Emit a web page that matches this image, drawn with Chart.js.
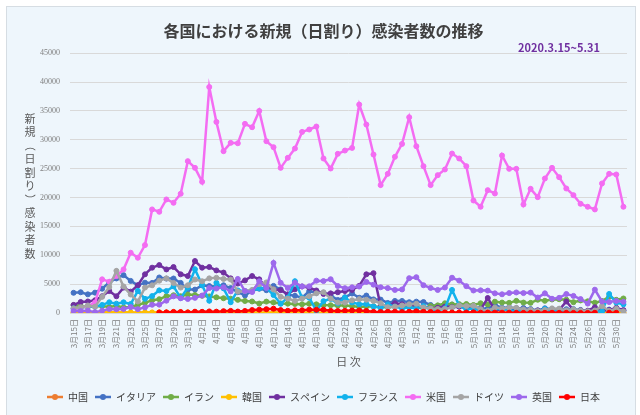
<!DOCTYPE html>
<html lang="ja">
<head>
<meta charset="utf-8">
<script src="https://cdn.jsdelivr.net/npm/chart.js@4.4.0/dist/chart.umd.min.js"></script>
<style>
  html, body { margin: 0; padding: 0; background: #fff; }
  #wrap { width: 640px; height: 415px; }
</style>
</head>
<body>
<div id="wrap"><canvas id="chart" width="640" height="415"></canvas></div>
<script>
// 日付（3/15〜5/31）
const days = [
  "3月15日","3月16日","3月17日","3月18日","3月19日","3月20日","3月21日","3月22日","3月23日","3月24日",
  "3月25日","3月26日","3月27日","3月28日","3月29日","3月30日","3月31日",
  "4月1日","4月2日","4月3日","4月4日","4月5日","4月6日","4月7日","4月8日","4月9日","4月10日",
  "4月11日","4月12日","4月13日","4月14日","4月15日","4月16日","4月17日","4月18日","4月19日","4月20日",
  "4月21日","4月22日","4月23日","4月24日","4月25日","4月26日","4月27日","4月28日","4月29日","4月30日",
  "5月1日","5月2日","5月3日","5月4日","5月5日","5月6日","5月7日","5月8日","5月9日","5月10日",
  "5月11日","5月12日","5月13日","5月14日","5月15日","5月16日","5月17日","5月18日","5月19日","5月20日",
  "5月21日","5月22日","5月23日","5月24日","5月25日","5月26日","5月27日","5月28日","5月29日","5月30日","5月31日"
];

const china = [20,27,30,25,16,34,39,41,46,39, 78,47,67,55,54,45,111,31,48,36, 35,31,30,39,78,32,62,42,46,99,
  108,89,46,26,27,30,30,12,11,30, 10,11,3,12,11,3,22,6,12,2, 4,1,2,1,2,1,17,5,1,8, 6,4,5,7,6,5,3,8,11,1, 3,1,0,7,2,3,2,4];
const italy = [3497,3590,3233,3526,4207,5322,5986,6557,5560,4789, 5249,5210,6153,5959,5974,5217,4050,4053,4782,4668,
  4585,4805,4316,3599,3039,3836,4204,3951,4694,4092, 3153,2972,2667,3786,3493,3491,3047,2256,2729,3370,
  2646,3021,2357,2324,1739,2091,2086,1872,1965,1900, 1389,1221,1075,1444,1401,1327,1083,802,744,1402,
  888,992,789,875,675,451,813,665,642,652, 669,531,300,397,584,593,516,416];
const iran = [1365,1209,1053,1178,1192,1046,1237,966,1028,1411, 1762,2206,2389,2926,3076,2901,3186,3110,2987,2875,
  2715,2560,2483,2274,2089,1997,1634,1972,1837,1657, 1617,1574,1512,1606,1499,1374,1343,1294,1297,1194,
  1030,1134,1153,1006,991,1112,1073,993,976,802, 1223,1323,1680,1485,1529,1556,1383,1683,1481,1958,
  1808,1757,2102,1806,1757,2294,2111,2346,2392,2311, 1869,2180,2023,1787,2080,2819,2282,2516];
const korea = [107,76,74,84,93,152,87,147,98,64, 76,100,104,91,146,105,78,125,101,89, 86,94,81,47,47,53,39,27,30,32,
  25,27,27,22,22,18,8,13,9,11, 8,6,10,10,14,9,4,9,6,13, 8,3,2,4,12,18,34,35,27,26, 29,27,19,13,15,13,32,12,20,23,
  25,16,19,40,79,58,39,27];
const spain = [1400,1900,2000,2200,2900,3800,2900,4400,3700,4800, 6700,7850,8300,7550,7960,6700,6400,9000,7850,7960,
  7380,7000,6000,5100,5650,6400,5830,4400,4100,3960, 3230,4100,4600,4400,3900,3300,3400,3600,3800,4000,
  4700,6700,6900,1200,1300,1700,1500,1400,1300,1000, 800,900,1100,1000,1100,900,700,600,2600,500,
  600,600,800,600,500,450,400,450,500,2000, 500,450,400,1000,400,500,900,500];
const france = [800,840,1190,1100,1400,1860,1620,1850,1560,3840, 2450,2930,3920,3810,4610,2600,4380,7580,4860,2120,
  5230,4270,1870,3910,3780,3880,4290,4340,3110,1610, 2670,5500,2630,2640,400,2050,2440,1650,2670,1830,
  1520,1540,1150,890,1480,1100,800,1000,800,1200, 700,500,800,4000,1300,600,800,400,300,800,
  700,500,300,500,400,200,700,500,300,300, 600,300,200,200,300,3300,1800,1500];
const usa = [700,900,1200,1800,5830,5420,6400,7550,10440,9570, 11760,17940,17530,19670,19090,20650,26300,25140,22720,39150,
  33100,28030,29470,29400,32760,32180,35000,29760,28720,25140, 26870,28490,31370,31780,32300,26760,25030,27570,28140,28600,
  36100,32640,27450,22150,24100,27050,29290,33910,28890,25430, 22150,23880,24860,27620,26760,25430,19490,18400,21280,20700,
  27280,24970,24970,18800,21510,20070,23300,25140,23530,21570, 20410,18910,18400,17940,22440,24100,23990,18400];
const germany = [800,1000,1300,1100,2800,4500,7300,4600,3200,2000, 4400,4800,5600,6000,5200,4400,4800,5800,5500,6000,
  6100,5900,5800,3700,3800,4000,5000,5300,4100,2800, 2500,2100,2500,2900,3400,3600,2500,1800,1800,2200,
  2400,2300,2100,1700,1000,1100,1300,1500,1600,950, 800,700,700,950,1300,1200,1250,670,360,930,
  800,930,910,620,580,340,510,800,750,460, 640,430,290,430,1200,350,740,290];
const uk = [340,340,410,150,410,680,650,710,1040,670, 970,1430,1450,2130,2890,2550,2430,2620,3010,4320,
  4240,4450,3740,5900,3800,3630,5490,4340,8680,5230, 4340,5250,4600,4620,5600,5530,5850,4680,4300,4450,
  4580,5390,4910,4460,4310,4000,4080,6030,6200,4810, 4340,3990,4410,6110,5610,4650,3900,3920,3880,3400,
  3240,3450,3560,3450,3530,2680,3410,2470,2620,3290, 2960,2410,1630,4040,2000,1890,2100,1940];
const japan = [null,null,null,null,null,null,null,null,null,null,null,null,
  96,112,194,173,87,
  225,206,272,235,318,368,252,351,511,579,658,743,507,390,455,482,584,556,568,373,347,378,438,436,347,201,189,203,231,165,
  202,294,201,173,123,99,85,93,87,109,52,72,59,53,56,29,22,30,31,26,40,26,28,21,14,21,38,null,48,36,null];

const seriesNames = ["中国","イタリア","イラン","韓国","スペイン","フランス","米国","ドイツ","英国","日本"];
const seriesData = [china, italy, iran, korea, spain, france, usa, germany, uk, japan];
const seriesColors = ["#ed7d31","#4472c4","#70ad47","#ffc000","#7030a0","#12b2ec","#f46cf2","#a5a5a5","#9d68ec","#ff0000"];

const yTicksMax = 45000;
const yTicksStep = 5000;
const chartTitle = "各国における新規（日割り）感染者数の推移";
const periodText = "2020.3.15~5.31";
const yTitle = "新規（日割り）感染者数";
const xTitle = "日 次";

const JP = '"Noto Sans CJK JP", "Noto Sans", sans-serif';

// legend marker: line with dot
function makeMarker(color) {
  const c = document.createElement("canvas");
  c.width = 16; c.height = 8;
  const g = c.getContext("2d");
  g.strokeStyle = color; g.lineWidth = 2.5;
  g.beginPath(); g.moveTo(0, 4); g.lineTo(16, 4); g.stroke();
  g.fillStyle = color;
  g.beginPath(); g.arc(8, 4, 3, 0, Math.PI * 2); g.fill();
  return c;
}
const markers = seriesColors.map(makeMarker);

const datasets = seriesNames.map((name, i) => ({
  label: name,
  data: seriesData[i],
  borderColor: seriesColors[i],
  backgroundColor: seriesColors[i],
  borderWidth: 2.5,
  pointRadius: 2.5,
  pointBorderWidth: 1,
  pointBackgroundColor: seriesColors[i],
  pointBorderColor: seriesColors[i],
  tension: 0,
  order: seriesNames.length - i   // later series on top, like Excel
}));

const decorPlugin = {
  id: "decor",
  beforeDraw(chart) {
    const ctx = chart.ctx;
    ctx.save();
    ctx.fillStyle = "#ffffff";
    ctx.fillRect(0, 0, chart.width, chart.height);
    ctx.fillStyle = "#eef6fc";
    ctx.strokeStyle = "#d6dde3";
    ctx.lineWidth = 1;
    ctx.fillRect(6, 6, chart.width - 10, chart.height - 4);
    ctx.strokeRect(6.5, 6.5, chart.width - 11, chart.height - 4);
    ctx.restore();
  },
  afterDraw(chart) {
    const ctx = chart.ctx;
    const area = chart.chartArea;
    ctx.save();
    // period label
    ctx.font = 'bold 11px ' + JP;
    ctx.fillStyle = "#7030a0";
    ctx.textAlign = "center";
    ctx.textBaseline = "middle";
    ctx.fillText(periodText, 559, area.top - 5);
    // vertical y-axis title (stacked characters)
    ctx.font = '11px ' + JP;
    ctx.fillStyle = "#595959";
    const chars = [...yTitle];
    const step = 13.5;
    let y = (area.top + area.bottom) / 2 + 3 - (chars.length - 1) * step / 2;
    chars.forEach(ch => {
      if (ch === "（" || ch === "）") {
        ctx.save();
        ctx.translate(30, y);
        ctx.rotate(Math.PI / 2);
        ctx.fillText(ch, 0, 0);
        ctx.restore();
      } else {
        ctx.fillText(ch, 30, y);
      }
      y += step;
    });
    ctx.restore();
  }
};

new Chart(document.getElementById("chart"), {
  type: "line",
  data: { labels: days, datasets: datasets },
  options: {
    responsive: false,
    animation: false,
    layout: { padding: { left: 20, right: 13, top: 0, bottom: 3 } },
    plugins: {
      title: {
        display: true,
        text: chartTitle,
        color: "#404040",
        font: { family: JP, size: 16, weight: "bold" },
        padding: { top: 21, bottom: 13 }
      },
      legend: {
        position: "bottom",
        labels: {
          usePointStyle: true,
          pointStyleWidth: 16,
          boxHeight: 8,
          padding: 7,
          color: "#404040",
          font: { family: JP, size: 10 },
          sort: (a, b) => a.datasetIndex - b.datasetIndex,
          generateLabels(chart) {
            const items = Chart.defaults.plugins.legend.labels.generateLabels(chart);
            items.forEach(it => { it.pointStyle = markers[it.datasetIndex]; });
            return items;
          }
        }
      },
      tooltip: { enabled: false }
    },
    scales: {
      x: {
        offset: true,
        grid: { display: false, drawTicks: false },
        border: { display: false },
        ticks: {
          autoSkip: false,
          minRotation: 90,
          maxRotation: 90,
          padding: 6,
          color: "#7f7f7f",
          font: { family: JP, size: 8 },
          callback: (v, i) => (i % 2 === 0 ? days[i] : "")
        },
        title: {
          display: true,
          text: xTitle,
          color: "#595959",
          font: { family: JP, size: 11 },
          padding: { top: 2, bottom: 17 }
        },
        afterFit: (s) => { s.height = 72; }
      },
      y: {
        min: 0,
        max: yTicksMax,
        grid: { color: "#d9d9d9", drawTicks: false },
        border: { display: false },
        ticks: {
          stepSize: yTicksStep,
          padding: 10,
          color: "#7f7f7f",
          font: { family: '"Liberation Serif", serif', size: 8 },
          callback: (v) => String(v)
        },
        afterFit: (s) => { s.width = 50; }
      }
    }
  },
  plugins: [decorPlugin]
});
</script>
</body>
</html>
